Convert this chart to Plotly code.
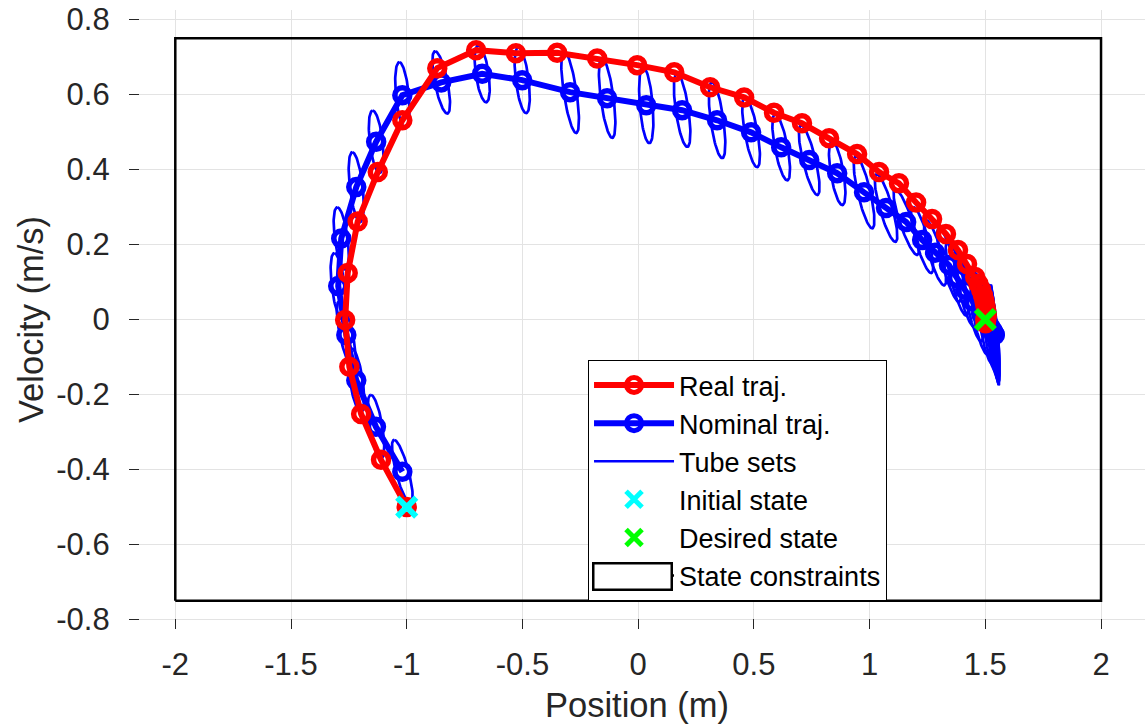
import numpy as np
import plotly.graph_objects as go

# ---------------- data ----------------
real_pos = [-1.0, -1.111, -1.197, -1.248, -1.266, -1.255, -1.212, -1.125, -1.019, -0.868,
            -0.700, -0.528, -0.350, -0.177, -0.004, 0.156, 0.311, 0.458, 0.587, 0.708,
            0.825, 0.946, 1.041, 1.127, 1.201, 1.270, 1.330, 1.382, 1.421, 1.456,
            1.470, 1.482, 1.490, 1.496, 1.500, 1.503, 1.505, 1.506, 1.505, 1.503, 1.501, 1.500]
real_vel = [-0.500, -0.374, -0.252, -0.126, -0.001, 0.124, 0.261, 0.393, 0.531, 0.670,
            0.718, 0.710, 0.711, 0.696, 0.678, 0.659, 0.619, 0.592, 0.551, 0.523,
            0.483, 0.441, 0.393, 0.363, 0.312, 0.268, 0.228, 0.185, 0.148, 0.113,
            0.095, 0.079, 0.064, 0.050, 0.038, 0.027, 0.018, 0.010, 0.004, -0.004, -0.010, 0.000]

nom_pos = [-1.019, -1.133, -1.218, -1.261, -1.296, -1.283, -1.218, -1.132, -1.019, -0.851,
           -0.674, -0.501, -0.294, -0.134, 0.035, 0.190, 0.341, 0.488, 0.618, 0.739,
           0.860, 0.976, 1.071, 1.158, 1.227, 1.283, 1.343, 1.378, 1.413, 1.447,
           1.482, 1.505, 1.520, 1.530, 1.535, 1.538, 1.540, 1.541]
nom_vel = [-0.406, -0.286, -0.162, -0.041, 0.089, 0.216, 0.353, 0.474, 0.598, 0.632,
           0.655, 0.638, 0.606, 0.590, 0.571, 0.558, 0.531, 0.499, 0.459, 0.425,
           0.390, 0.339, 0.297, 0.260, 0.212, 0.178, 0.145, 0.110, 0.079, 0.047,
           0.015, -0.005, -0.018, -0.028, -0.034, -0.038, -0.040, -0.041]

# tube set ellipses around nominal points:
# velocity half-extent, position offset of the upper tip, position half-width
tube_half_vel = [0.085, 0.085, 0.085, 0.090, 0.088, 0.083, 0.093, 0.083, 0.088, 0.083,
                 0.076, 0.088, 0.109, 0.106, 0.101, 0.098, 0.101, 0.093, 0.088, 0.093,
                 0.085, 0.096, 0.090, 0.088, 0.088, 0.087, 0.098, 0.100, 0.100, 0.105,
                 0.110, 0.115, 0.120, 0.124, 0.127, 0.130, 0.132, 0.134]
tube_skew_pos = [-0.035, -0.022, -0.020, -0.030, -0.017, -0.017, -0.017, -0.015, -0.013, -0.026,
                 -0.017, -0.017, -0.026, -0.022, -0.013, -0.022, -0.022, -0.026, -0.026, -0.035,
                 -0.022, -0.035, -0.040, -0.047, -0.039, -0.039, -0.043, -0.040, -0.040, -0.035,
                 -0.030, -0.027, -0.024, -0.022, -0.020, -0.019, -0.018, -0.017]
tube_half_pos = [0.028] * 30 + [0.034, 0.030, 0.026, 0.022, 0.018, 0.014, 0.010, 0.006]

initial_state = (-1.0, -0.5)
desired_state = (1.5, 0.0)
pos_limits = [-2.0, 2.0]
vel_limits = [-0.75, 0.75]

x_ticks = [-2, -1.5, -1, -0.5, 0, 0.5, 1, 1.5, 2]
x_tick_text = ["-2", "-1.5", "-1", "-0.5", "0", "0.5", "1", "1.5", "2"]
y_ticks = [-0.8, -0.6, -0.4, -0.2, 0, 0.2, 0.4, 0.6, 0.8]
y_tick_text = ["-0.8", "-0.6", "-0.4", "-0.2", "0", "0.2", "0.4", "0.6", "0.8"]

# ---------------- build tube outlines ----------------
t = np.linspace(0, 2 * np.pi, 90)
tube_x, tube_y = [], []
for cx, cy, hv, sk, hw in zip(nom_pos, nom_vel, tube_half_vel, tube_skew_pos, tube_half_pos):
    ex = cx + np.cos(t) * sk + np.sin(t) * hw
    ey = cy + np.cos(t) * hv
    tube_x += list(ex) + [None]
    tube_y += list(ey) + [None]

FONT = "Liberation Sans, Arial, sans-serif"
fig = go.Figure()

fig.add_trace(go.Scatter(
    x=real_pos, y=real_vel, mode="lines+markers", name="Real traj.",
    line=dict(color="#ff0000", width=6),
    marker=dict(symbol="circle-open", size=15, color="#ff0000", line=dict(width=5.5, color="#ff0000")),
    zorder=3))
fig.add_trace(go.Scatter(
    x=nom_pos, y=nom_vel, mode="lines+markers", name="Nominal traj.",
    line=dict(color="#0000ff", width=6),
    marker=dict(symbol="circle-open", size=15, color="#0000ff", line=dict(width=5.5, color="#0000ff")),
    zorder=2))
fig.add_trace(go.Scatter(
    x=tube_x, y=tube_y, mode="lines", name="Tube sets",
    line=dict(color="#0000ff", width=2.7), zorder=1))
fig.add_trace(go.Scatter(
    x=[initial_state[0]], y=[initial_state[1]], mode="markers", name="Initial state",
    marker=dict(symbol="x-thin", size=19, color="#00ffff", line=dict(width=6, color="#00ffff")),
    zorder=4))
fig.add_trace(go.Scatter(
    x=[desired_state[0]], y=[desired_state[1]], mode="markers", name="Desired state",
    marker=dict(symbol="x-thin", size=19, color="#00ff00", line=dict(width=6, color="#00ff00")),
    zorder=5))
fig.add_trace(go.Scatter(
    x=[pos_limits[0], pos_limits[1], pos_limits[1], pos_limits[0], pos_limits[0]],
    y=[vel_limits[0], vel_limits[0], vel_limits[1], vel_limits[1], vel_limits[0]],
    mode="lines", name="State constraints",
    line=dict(color="#000000", width=2.5), zorder=0))

axis_common = dict(
    showgrid=True, gridcolor="#e3e3e3", gridwidth=1,
    showline=True, linecolor="#262626", linewidth=1.2,
    ticks="inside", ticklen=10, tickcolor="#262626", tickwidth=1.2,
    zeroline=False, automargin=False, ticklabeloverflow="allow",
    tickfont=dict(family=FONT, size=31, color="#262626"),
    title_font=dict(family=FONT, size=34.5, color="#262626"),
)
fig.update_xaxes(range=[-2.2, 2.19], tickvals=x_ticks, ticktext=x_tick_text,
                 title_text="Position (m)", title_standoff=16, ticklabelstandoff=8, **axis_common)
fig.update_yaxes(range=[-0.825, 0.825], tickvals=y_ticks, ticktext=y_tick_text,
                 title_text="Velocity (m/s)", title_standoff=2, ticklabelstandoff=12, **axis_common)

fig.update_layout(
    width=1145, height=724,
    margin=dict(l=129, r=0, t=10, b=95),
    plot_bgcolor="white", paper_bgcolor="white",
    showlegend=True,
    legend=dict(x=0.4518, y=0.4346, xanchor="left", yanchor="top",
                bgcolor="white", bordercolor="#000000", borderwidth=1,
                font=dict(family=FONT, size=27, color="#000000"),
                itemwidth=80, tracegroupgap=0),
    annotations=[dict(  # legend glyph for the constraint box
        xref="paper", yref="paper", x=0.496, y=1 - (576 - 10) / 619,
        xanchor="center", yanchor="middle", text=" ", showarrow=False,
        width=74, height=22, bgcolor="white", bordercolor="#000000", borderwidth=2.5)],
)

fig.write_html("out.html", config={"displayModeBar": False},
               post_script="document.body.style.margin='0px';")
